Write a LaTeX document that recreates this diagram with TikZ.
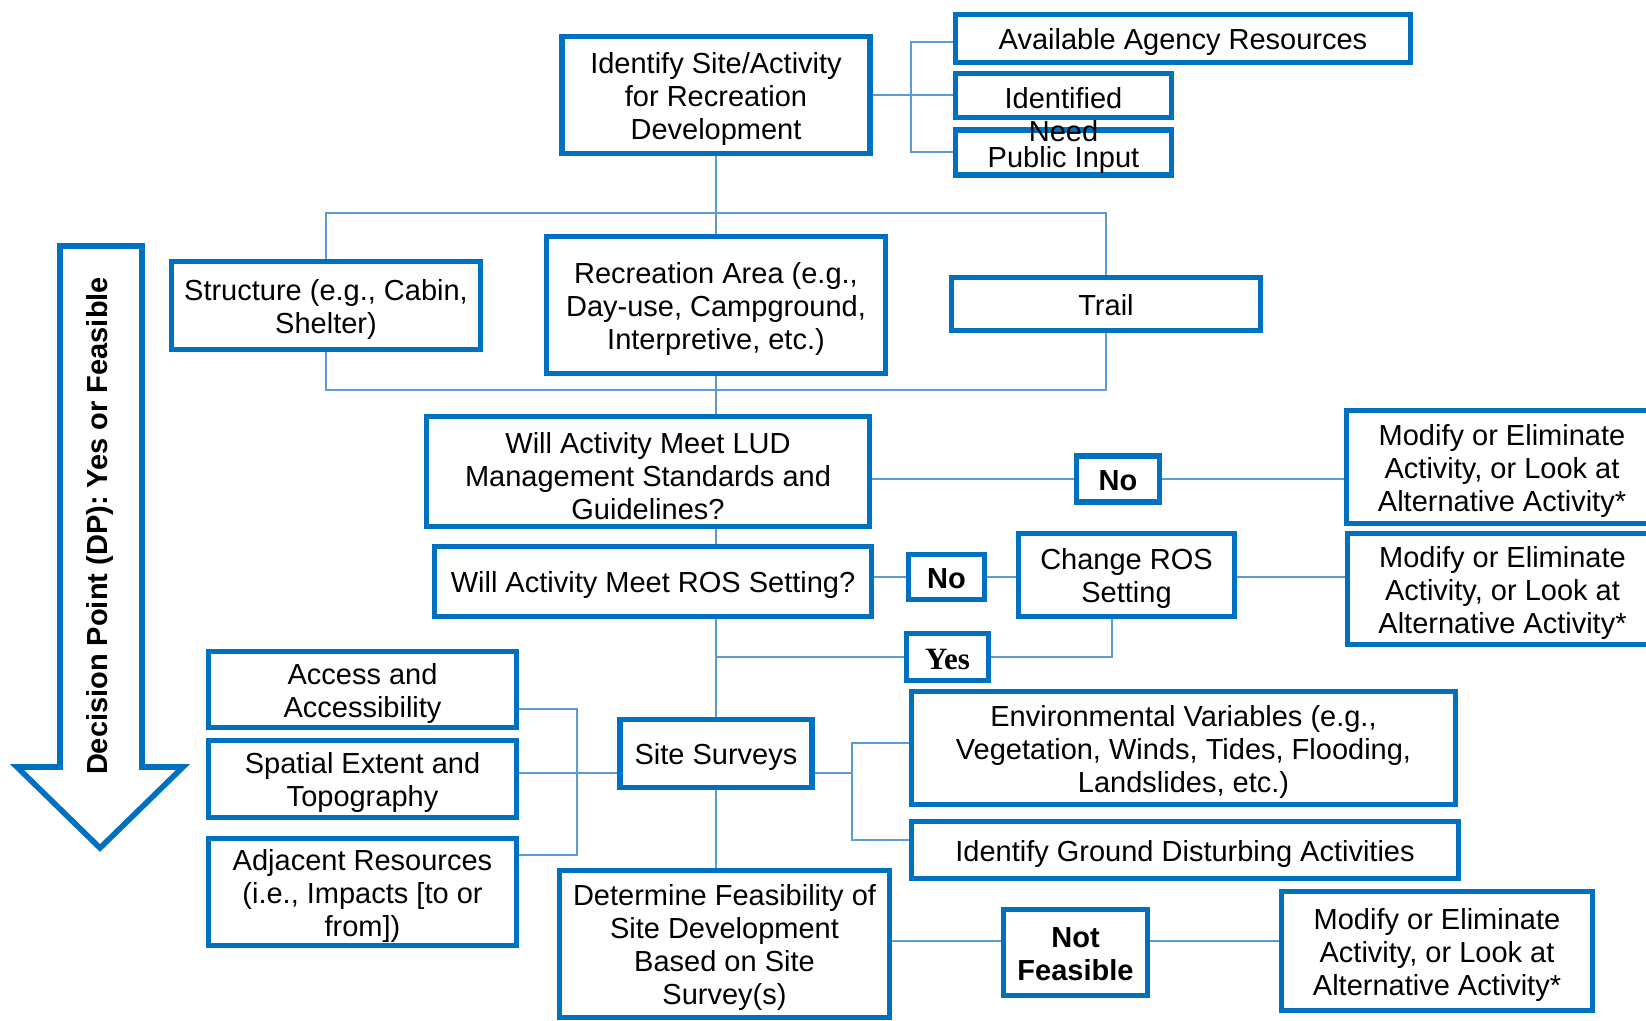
\documentclass[tikz,border=0pt]{standalone}
\usepackage{fontspec}
\setmainfont{Liberation Sans}
\newfontfamily\serifyes{Liberation Serif}
\definecolor{boxblue}{HTML}{0070C0}
\definecolor{lineblue}{HTML}{5B9BD5}
\pgfdeclarelayer{bg}
\pgfsetlayers{bg,main}
\newcommand{\fsz}{\fontsize{14.5}{16.5}\selectfont}
% invisible rules giving every text block a full line box at top and bottom
\newcommand{\topline}{\rule{0pt}{1.0em}}
\newcommand{\botline}{\rule[-0.212em]{0pt}{0.212em}}
\newcommand{\tx}[1]{\topline#1\botline}
% same, with a little more room above the first line
\newcommand{\txlow}[1]{\rule{0pt}{18pt}#1\botline}
\tikzset{
  box/.style={draw=boxblue, line width=2.6pt, fill=white, inner sep=0pt,
              align=center, font=\fsz},
  conn/.style={draw=lineblue, line width=1.15pt},
  plain/.style={inner sep=0pt, align=center, font=\fsz}
}
\begin{document}
\begin{tikzpicture}[x=0.5pt, y=-0.5pt]
\clip (0,0) rectangle (1646,1021);

% top level
\node[box, minimum width=154pt, minimum height=58.5pt] (top) at (716,95)
  {\tx{Identify Site/Activity\\for Recreation\\Development}};
\node[box, minimum width=227.5pt, minimum height=24pt] (avail) at (1183,38.5)
  {\tx{Available Agency Resources}};
\node[box, minimum width=108pt, minimum height=22pt] (ident) at (1063.5,95.5) {};
\node[box, minimum width=108pt, minimum height=22.5pt] (public) at (1063.5,152.5)
  {\txlow{Public Input}};
\node[plain] (identtxt) at (1063.5,115) {Identified\\Need};

% facility types
\node[box, minimum width=154.5pt, minimum height=44pt] (struct) at (326,305.5)
  {\tx{Structure (e.g., Cabin,\\Shelter)}};
\node[box, minimum width=169.5pt, minimum height=68.5pt] (rec) at (716,305)
  {\tx{Recreation Area (e.g.,\\Day-use, Campground,\\Interpretive, etc.)}};
\node[box, minimum width=154.5pt, minimum height=26.5pt] (trail) at (1106,304)
  {\tx{Trail}};

% decision points
\node[box, minimum width=221.5pt, minimum height=55pt] (lud) at (648,471.5)
  {\txlow{Will Activity Meet LUD\\Management Standards and\\Guidelines?}};
\node[box, minimum width=41.5pt, minimum height=23pt, font=\fsz\bfseries] (no1) at (1118,479)
  {\tx{No}};
\node[box, minimum width=155.5pt, minimum height=56.5pt] (mod1) at (1502,467)
  {\tx{Modify or Eliminate\\Activity, or Look at\\Alternative Activity*}};

\node[box, minimum width=218.5pt, minimum height=35pt] (ros) at (653,581.5)
  {\tx{Will Activity Meet ROS Setting?}};
\node[box, minimum width=38pt, minimum height=22.5pt, font=\fsz\bfseries] (no2) at (946.5,577)
  {\tx{No}};
\node[box, minimum width=108pt, minimum height=41.5pt] (chg) at (1126.5,575)
  {\tx{Change ROS\\Setting}};
\node[box, minimum width=155pt, minimum height=55.5pt] (mod2) at (1502.5,589)
  {\tx{Modify or Eliminate\\Activity, or Look at\\Alternative Activity*}};
\node[box, minimum width=41pt, minimum height=23.5pt,
      font=\fontsize{15.5}{17}\serifyes\bfseries] (yes) at (947.5,657) {\tx{Yes}};

% site surveys
\node[box, minimum width=154pt, minimum height=38pt] (access) at (362.5,689.5)
  {\tx{Access and\\Accessibility}};
\node[box, minimum width=154pt, minimum height=38.5pt] (spatial) at (362.5,779)
  {\tx{Spatial Extent and\\Topography}};
\node[box, minimum width=154pt, minimum height=53.5pt] (adjacent) at (362.5,892)
  {\tx{Adjacent Resources\\(i.e., Impacts [to or\\from])}};
\node[box, minimum width=96pt, minimum height=34pt] (site) at (716,753.5)
  {\tx{Site Surveys}};
\node[box, minimum width=272pt, minimum height=56.5pt] (env) at (1183.5,748)
  {\tx{Environmental Variables (e.g.,\\Vegetation, Winds, Tides, Flooding,\\Landslides, etc.)}};
\node[box, minimum width=273.5pt, minimum height=28.5pt] (ground) at (1185,850)
  {\tx{Identify Ground Disturbing Activities}};

% feasibility
\node[box, minimum width=165pt, minimum height=73.5pt] (det) at (724.5,944)
  {\tx{Determine Feasibility of\\Site Development\\Based on Site\\Survey(s)}};
\node[box, minimum width=72pt, minimum height=43pt, font=\fsz\bfseries] (notfeas) at (1075.5,952.5)
  {\tx{Not\\Feasible}};
\node[box, minimum width=155.5pt, minimum height=59.5pt] (mod3) at (1437,951)
  {\tx{Modify or Eliminate\\Activity, or Look at\\Alternative Activity*}};

% junction points of the connectors
\coordinate (jA) at (911,42);
\coordinate (jC) at (911,152);
\coordinate (t1) at (716,213);
\coordinate (t2) at (716,390);
\coordinate (yleg) at (1112,618);
\coordinate (lb1) at (577,709);
\coordinate (lb2) at (577,773);
\coordinate (lb3) at (577,855);
\coordinate (rb1) at (852,743);
\coordinate (rb2) at (852,840);
\coordinate (fb) at (0,941);

\begin{pgfonlayer}{bg}
  \fill[white] (0,0) rectangle (1646,1021);
  % inputs to the first step
  \draw[conn] (top.east) -- (top.east -| ident.west);
  \draw[conn] (jA -| avail.west) -- (jA) -- (jC) -- (jC -| public.west);
  % facility types
  \draw[conn] (top.south) -- (rec.north);
  \draw[conn] (struct.north) -- (struct.north |- t1) -- (trail.north |- t1) -- (trail.north);
  \draw[conn] (struct.south) -- (struct.south |- t2) -- (trail.south |- t2) -- (trail.south);
  % main spine
  \draw[conn] (rec.south) -- (rec.south |- lud.north);
  \draw[conn] (rec.south |- lud.south) -- (rec.south |- ros.north);
  \draw[conn] (rec.south |- ros.south) -- (site.north);
  \draw[conn] (site.south) -- (site.south |- det.north);
  % LUD branch
  \draw[conn] (no1.west) -- (no1.west -| lud.east);
  \draw[conn] (no1.east) -- (no1.east -| mod1.west);
  % ROS branch
  \draw[conn] (no2.west) -- (no2.west -| ros.east);
  \draw[conn] (no2.east) -- (no2.east -| chg.west);
  \draw[conn] (no2.east -| chg.east) -- (no2.east -| mod2.west);
  \draw[conn] (yes.west) -- (yes.west -| site.north);
  \draw[conn] (yes.east) -- (yes.east -| yleg) -- (yleg |- chg.south);
  % survey topics
  \draw[conn] (access.east |- lb1) -- (lb1) -- (lb3) -- (adjacent.east |- lb3);
  \draw[conn] (spatial.east |- lb2) -- (site.west |- lb2);
  \draw[conn] (site.east |- lb2) -- (rb1 |- lb2);
  \draw[conn] (env.west |- rb1) -- (rb1) -- (rb2) -- (ground.west |- rb2);
  % feasibility branch
  \draw[conn] (det.east |- fb) -- (notfeas.west |- fb);
  \draw[conn] (notfeas.east |- fb) -- (mod3.west |- fb);
\end{pgfonlayer}

% decision point arrow
\draw[boxblue, line width=2.8pt, fill=white, line join=miter]
  (60,246) -- (142,246) -- (142,767) -- (183,767) -- (100,848)
  -- (17,767) -- (60,767) -- cycle;
\node[plain, font=\fsz\bfseries, rotate=90] (dptext) at (100,526)
  {Decision Point (DP): Yes or Feasible};
\end{tikzpicture}
\end{document}
